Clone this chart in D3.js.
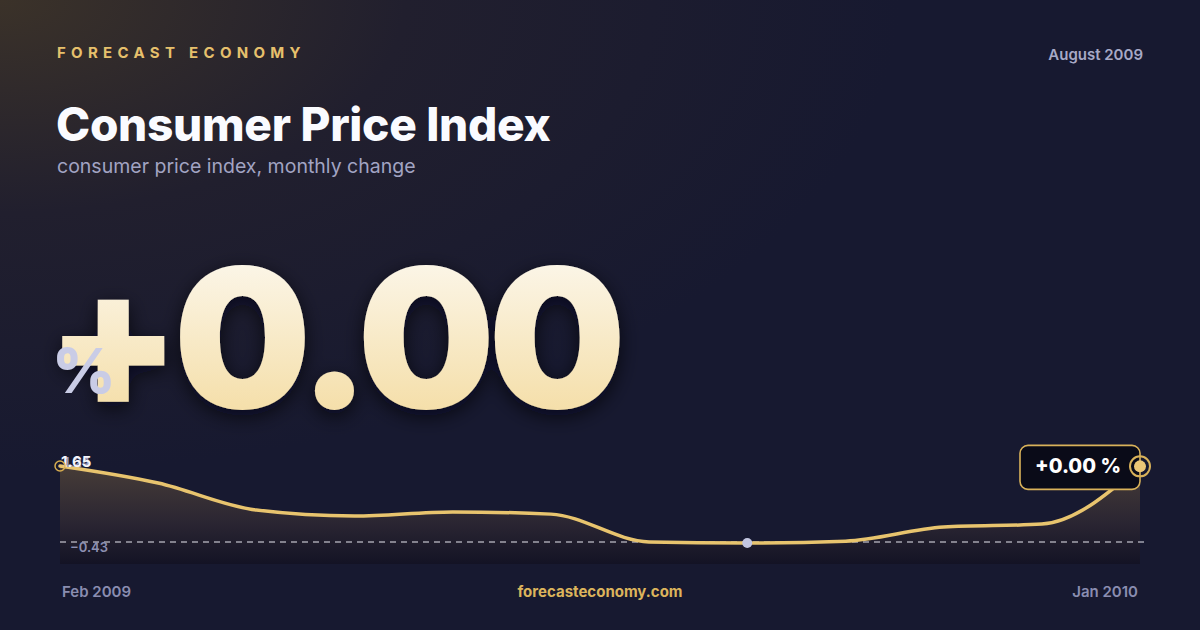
<!DOCTYPE html>
<html>
<head>
<meta charset="utf-8">
<script src="https://cdn.jsdelivr.net/npm/d3@7"></script>
<style>
  html, body { margin: 0; padding: 0; background: #171930; }
  svg { display: block; font-family: Inter, 'Noto Sans', sans-serif; }
</style>
</head>
<body>
<div id="card"></div>
<script>
// monthly values, Feb 2009 .. Jan 2010
var months = ['Feb 2009', 'Mar 2009', 'Apr 2009', 'May 2009', 'Jun 2009', 'Jul 2009',
              'Aug 2009', 'Sep 2009', 'Oct 2009', 'Nov 2009', 'Dec 2009', 'Jan 2010'];
var values = [1.65, 1.19, 0.46, 0.30, 0.41, 0.35, -0.40, -0.43, -0.38, 0.00, 0.08, 1.64];

var latestChange = 0.00;
var periodLabel = 'August 2009';
var titleText = 'Consumer Price Index';
var subtitleText = 'consumer price index, monthly change';
var brandText = 'FORECAST ECONOMY';
var siteText = 'forecasteconomy.com';
var ghostLabel = '1.24';

var W = 1200, H = 630;

var svg = d3.select('#card').append('svg')
    .attr('width', W)
    .attr('height', H);

var defs = svg.append('defs');

// background glow top-left
var bgGlow = defs.append('radialGradient')
    .attr('id', 'bgGlow')
    .attr('cx', 0).attr('cy', 0).attr('r', 0.75)
    .attr('gradientUnits', 'objectBoundingBox');
bgGlow.append('stop').attr('offset', '0%').attr('stop-color', '#3b3229');
bgGlow.append('stop').attr('offset', '45%').attr('stop-color', '#211f2e');
bgGlow.append('stop').attr('offset', '100%').attr('stop-color', '#171930');

var bigFill = defs.append('linearGradient')
    .attr('id', 'bigFill')
    .attr('x1', 0).attr('y1', 0).attr('x2', 0).attr('y2', 1);
bigFill.append('stop').attr('offset', '0%').attr('stop-color', '#fdfcf9');
bigFill.append('stop').attr('offset', '100%').attr('stop-color', '#f3d897');

var areaFill = defs.append('linearGradient')
    .attr('id', 'areaFill')
    .attr('gradientUnits', 'userSpaceOnUse')
    .attr('x1', 0).attr('y1', 460).attr('x2', 0).attr('y2', 566);
areaFill.append('stop').attr('offset', '0%').attr('stop-color', '#4a3f38');
areaFill.append('stop').attr('offset', '60%').attr('stop-color', '#2a2532');
areaFill.append('stop').attr('offset', '100%').attr('stop-color', '#121224');

var shadow = defs.append('filter')
    .attr('id', 'bigShadow')
    .attr('x', '-10%').attr('y', '-10%').attr('width', '120%').attr('height', '130%');
shadow.append('feDropShadow')
    .attr('dx', 0).attr('dy', 6)
    .attr('stdDeviation', 10)
    .attr('flood-color', '#05050d')
    .attr('flood-opacity', 0.7);

svg.append('rect')
    .attr('width', W).attr('height', H)
    .attr('fill', 'url(#bgGlow)');

// header
svg.append('text')
    .attr('x', 57).attr('y', 58)
    .attr('fill', '#e6c06c')
    .attr('font-size', 15)
    .attr('font-weight', 700)
    .attr('letter-spacing', 5.3)
    .text(brandText);

svg.append('text')
    .attr('x', 1143).attr('y', 60)
    .attr('text-anchor', 'end')
    .attr('fill', '#a7a9c6')
    .attr('font-size', 15)
    .attr('font-weight', 600)
    .text(periodLabel);

svg.append('text')
    .attr('x', 56).attr('y', 141)
    .attr('fill', '#fafbff')
    .attr('font-size', 46)
    .attr('font-weight', 800)
    .attr('letter-spacing', -0.3)
    .text(titleText);

svg.append('text')
    .attr('x', 57).attr('y', 173)
    .attr('fill', '#a2a4c3')
    .attr('font-size', 19.5)
    .attr('font-weight', 400)
    .text(subtitleText);

// headline value
var fmt = d3.format('+.2f');
svg.append('text')
    .attr('x', 46).attr('y', 408)
    .attr('fill', 'url(#bigFill)')
    .attr('font-size', 194)
    .attr('font-weight', 900)
    .attr('letter-spacing', -7)
    .attr('filter', 'url(#bigShadow)')
    .text(fmt(latestChange));

svg.append('text')
    .attr('x', 52).attr('y', 393)
    .attr('fill', '#c9cce6')
    .attr('font-size', 62)
    .attr('font-weight', 800)
    .text('%');

// sparkline
var x = d3.scalePoint()
    .domain(months)
    .range([60, 1140]);

var yMin = d3.min(values), yMax = d3.max(values);
var y = d3.scaleLinear()
    .domain([yMin, yMax])
    .range([543, 466]);

var chartBottom = 564;

var area = d3.area()
    .x(function(d, i) { return x(months[i]); })
    .y0(chartBottom)
    .y1(function(d) { return y(d); })
    .curve(d3.curveMonotoneX);

var line = d3.line()
    .x(function(d, i) { return x(months[i]); })
    .y(function(d) { return y(d); })
    .curve(d3.curveMonotoneX);

svg.append('path')
    .datum(values)
    .attr('d', area)
    .attr('fill', 'url(#areaFill)');

svg.append('line')
    .attr('x1', 60).attr('x2', 1148)
    .attr('y1', y(yMin) - 1).attr('y2', y(yMin) - 1)
    .attr('stroke', '#e8e8f0')
    .attr('stroke-width', 1.2)
    .attr('stroke-dasharray', '6,5');

svg.append('path')
    .datum(values)
    .attr('d', line)
    .attr('fill', 'none')
    .attr('stroke', '#e8c46e')
    .attr('stroke-width', 3.5)
    .attr('stroke-linecap', 'round');

// axis labels
svg.append('text')
    .attr('x', 70).attr('y', 552)
    .attr('fill', '#8d90b2')
    .attr('font-size', 13)
    .attr('font-weight', 600)
    .text(d3.format('.2f')(yMin));

svg.append('text')
    .attr('x', 64).attr('y', 467)
    .attr('fill', '#9a9cbc')
    .attr('font-size', 13)
    .attr('font-weight', 600)
    .text(ghostLabel);

svg.append('text')
    .attr('x', 61).attr('y', 467)
    .attr('fill', '#f4f4fa')
    .attr('font-size', 15)
    .attr('font-weight', 700)
    .text(d3.format('.2f')(yMax));

// start marker
svg.append('circle')
    .attr('cx', x(months[0])).attr('cy', y(values[0]))
    .attr('r', 5)
    .attr('fill', 'none')
    .attr('stroke', '#d7ad4f')
    .attr('stroke-width', 1.5);

// min marker
var minIdx = values.indexOf(yMin);
svg.append('circle')
    .attr('cx', x(months[minIdx])).attr('cy', y(yMin))
    .attr('r', 5)
    .attr('fill', '#c3c6e0');

// badge on last point
var lastX = x(months[months.length - 1]);
var lastY = y(values[values.length - 1]);

svg.append('rect')
    .attr('x', lastX - 120).attr('y', lastY - 21)
    .attr('width', 120).attr('height', 44)
    .attr('rx', 8)
    .attr('fill', '#0a0b18')
    .attr('stroke', '#d9b25a')
    .attr('stroke-width', 1.6);

svg.append('text')
    .attr('x', lastX - 105).attr('y', lastY + 7)
    .attr('fill', '#ffffff')
    .attr('font-size', 20)
    .attr('font-weight', 800)
    .text(fmt(latestChange) + ' %');

svg.append('circle')
    .attr('cx', lastX).attr('cy', lastY)
    .attr('r', 10)
    .attr('fill', 'none')
    .attr('stroke', '#d9b25a')
    .attr('stroke-width', 2);

svg.append('circle')
    .attr('cx', lastX).attr('cy', lastY)
    .attr('r', 6)
    .attr('fill', '#ecc776');

// footer
svg.append('text')
    .attr('x', 62).attr('y', 597)
    .attr('fill', '#8a8db0')
    .attr('font-size', 15)
    .attr('font-weight', 600)
    .text(months[0]);

svg.append('text')
    .attr('x', 600).attr('y', 597)
    .attr('text-anchor', 'middle')
    .attr('fill', '#dcb45c')
    .attr('font-size', 15)
    .attr('font-weight', 700)
    .text(siteText);

svg.append('text')
    .attr('x', 1138).attr('y', 597)
    .attr('text-anchor', 'end')
    .attr('fill', '#8a8db0')
    .attr('font-size', 15)
    .attr('font-weight', 600)
    .text(months[months.length - 1]);
</script>
</body>
</html>
